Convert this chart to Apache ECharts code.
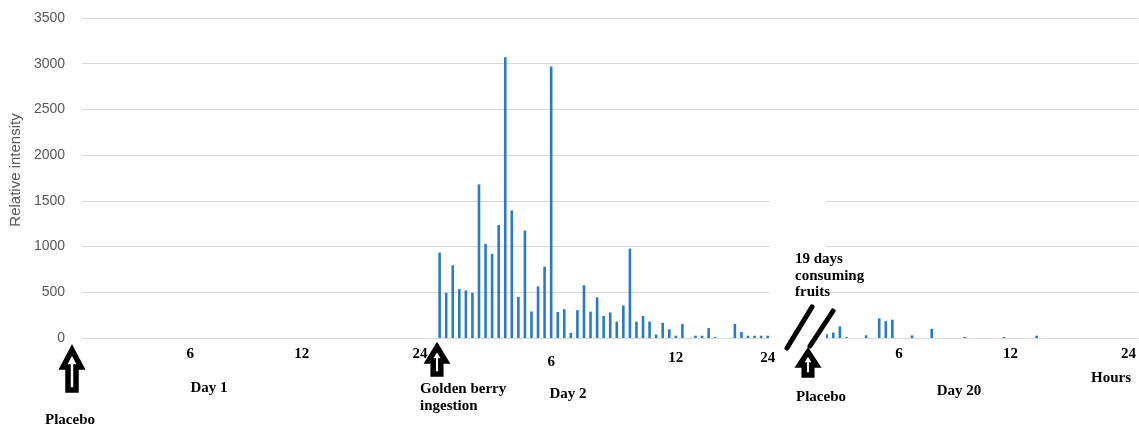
<!DOCTYPE html>
<html><head><meta charset="utf-8">
<script src="https://cdn.jsdelivr.net/npm/echarts@6/dist/echarts.min.js"></script>
<style>html,body{margin:0;padding:0;background:#fff}#c{width:1139px;height:429px}</style>
</head><body><div id="c"></div>
<script>
// Relative intensity per sampling slot (category)
const day1Values = [0,0,0,0,0,0,0,0,0,0,0,0,0,0,0,0,0,0,0,0,0,0,0,0,0,0,0,0,0,0,0,0,0,0,0,0,0,0,0,0,0,0,0,0,0,0,0,0,0,0,0,0,0,0];
const day2Values = [935,495,795,535,520,495,1680,1030,920,1235,3070,1395,450,1175,290,565,780,2970,285,315,55,305,578,288,445,240,280,180,356,978,180,240,180,38,166,95,25,152,0,25,25,108,10,0,0,153,65,25,25,25,25];
const gapValues = [0,0,0,0,0,0,0,0];
const day20Values = [40,60,127,11,0,0,30,0,215,185,200,0,0,28,0,0,100,0,0,0,0,11,0,0,0,0,0,11,0,0,0,0,25,0,0,0,0,0,0,0,0,0,0,0,0,0,0,0];
// hour tick labels (category index -> label)
const tickIndex = [16,33,51,71,90,104,124,141,159];
const tickText  = ['6','12','24','6','12','24','6','12','24'];
const tickStyle = ['a','a','a','lo','mid','mid','a','a','a'];
const yMin = 0, yMax = 3500, yStep = 500;
const yTitle = 'Relative intensity';

const values = day1Values.concat(day2Values, gapValues, day20Values);
const categories = values.map((v, i) => 'slot' + i);

const serif = '"Liberation Serif", "DejaVu Serif", serif';
const sans = '"Liberation Sans", Arial, sans-serif';
const chart = echarts.init(document.getElementById('c'), null, {renderer: 'canvas'});

function arrow(cx, tip, bottom, headH, headHW, shaftHW) {
  return {
    type: 'polygon', z: 200,
    shape: {points: [
      [cx, tip], [cx + headHW, tip + headH], [cx + shaftHW, tip + headH],
      [cx + shaftHW, bottom], [cx - shaftHW, bottom], [cx - shaftHW, tip + headH],
      [cx - headHW, tip + headH]
    ]},
    style: {fill: '#fff', stroke: '#000', lineWidth: 5.5, lineJoin: 'miter', miterLimit: 4}
  };
}
function label(text, x, y, align, lh) {
  return {type: 'text', z: 210, x: x, y: y,
    style: {text: text, font: 'bold 15px ' + serif, fill: '#000',
      align: align || 'center', verticalAlign: 'middle', lineHeight: lh || 17}};
}

const rich = {
  a:   {fontFamily: serif, fontWeight: 'bold', fontSize: 15, color: '#000', lineHeight: 14},
  mid: {fontFamily: serif, fontWeight: 'bold', fontSize: 15, color: '#000', lineHeight: 22},
  lo:  {fontFamily: serif, fontWeight: 'bold', fontSize: 15, color: '#000', lineHeight: 31}
};

chart.setOption({
  animation: false,
  backgroundColor: '#fff',
  grid: {left: 79, top: 18, width: 1062, height: 320, containLabel: false},
  xAxis: {
    type: 'category', data: categories, boundaryGap: true,
    axisLine: {show: false}, axisTick: {show: false},
    axisLabel: {
      interval: 0, margin: 9,
      formatter: function (v, i) {
        const k = tickIndex.indexOf(i);
        return k < 0 ? '' : '{' + tickStyle[k] + '|' + tickText[k] + '}';
      },
      rich: rich
    },
    splitLine: {show: false}
  },
  yAxis: {
    type: 'value', min: yMin, max: yMax, interval: yStep,
    name: yTitle, nameLocation: 'middle', nameGap: 50, nameRotate: 90,
    nameTextStyle: {color: '#595959', fontSize: 15, fontFamily: sans, padding: [0, 0, 0, 16]},
    axisLine: {show: false}, axisTick: {show: false},
    axisLabel: {color: '#595959', fontSize: 14, margin: 17, fontFamily: sans,
      formatter: function (v) { return String(v); }},
    splitLine: {lineStyle: {color: '#d9d9d9', width: 1}}
  },
  series: [{
    type: 'bar', data: values, barWidth: 2.6,
    itemStyle: {color: '#2a7acc'}, z: 3
  }],
  graphic: [
    {type: 'rect', z: 150, shape: {x: 770, y: 190, width: 56, height: 155}, style: {fill: '#fff'}},
    {type: 'line', z: 205, shape: {x1: 787, y1: 348, x2: 812, y2: 307}, style: {stroke: '#000', lineWidth: 5, lineCap: 'round'}},
    {type: 'line', z: 205, shape: {x1: 810, y1: 346, x2: 833, y2: 311}, style: {stroke: '#000', lineWidth: 5, lineCap: 'round'}},
    arrow(72, 350, 390, 17, 9, 4),
    arrow(437, 347, 374, 14, 8.5, 3.8),
    arrow(808, 352, 375, 13, 8.5, 3.8),
    label('Placebo', 70, 420),
    label('Day 1', 209, 388),
    label('Golden berry\ningestion', 420, 398, 'left', 17),
    label('Day 2', 568, 394),
    label('19 days\nconsuming\nfruits', 795, 276, 'left', 16.5),
    label('Placebo', 821, 397),
    label('Day 20', 959, 391),
    label('Hours', 1111, 378)
  ]
});
</script>
</body></html>
